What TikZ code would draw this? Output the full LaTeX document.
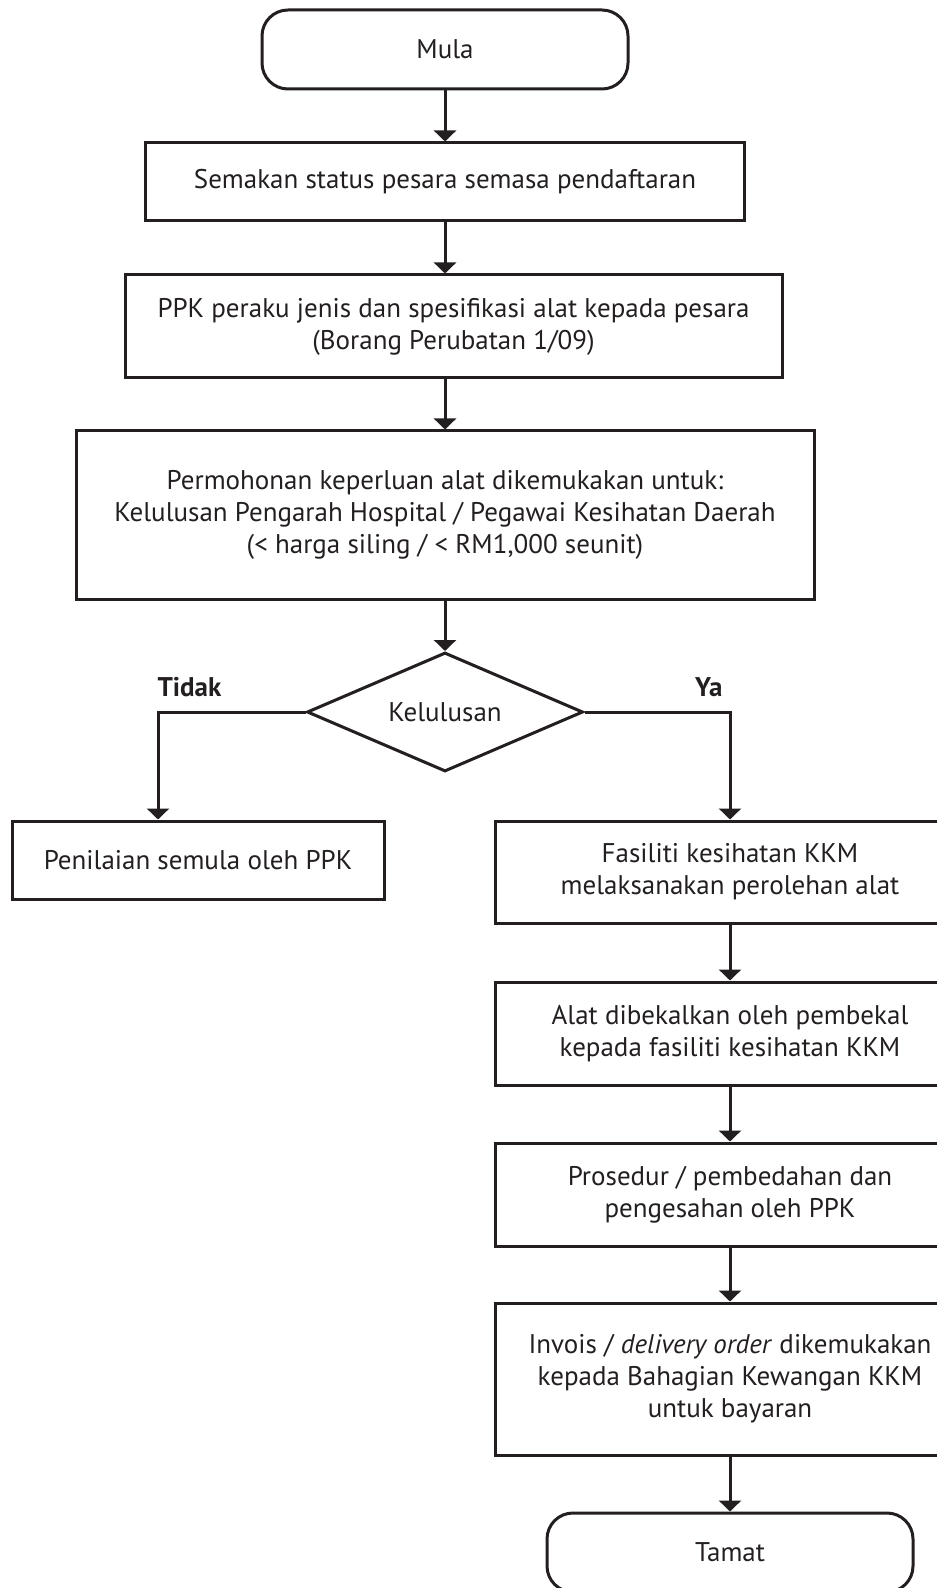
\documentclass[tikz,border=0pt]{standalone}
\usepackage{fontspec}
\setmainfont{PT Sans}
\usetikzlibrary{arrows.meta,shapes.geometric}
\definecolor{garis}{HTML}{231F20}
\begin{document}
\begin{tikzpicture}[x=0.5pt,y=-0.5pt,line width=1.5pt,draw=garis,text=garis,
    font=\fontsize{13.5}{16}\selectfont,
    kotak/.style={draw,align=center,inner sep=0pt},
    hujung/.style={kotak,rounded corners=13pt,minimum width=183pt,minimum height=39.5pt},
    pilihan/.style={inner sep=0pt,font=\fontsize{13.5}{16}\selectfont\bfseries},
    >={Triangle[width=11pt,length=5.5pt]}]
            \useasboundingbox (0,0) rectangle (936,1588);

            \node[hujung] (mula) at (445,49.5) {Mula};
            \node[kotak,minimum width=299.5pt,minimum height=39pt] (semakan) at (445,182) {Semakan status pesara semasa pendaftaran};
            \node[kotak,minimum width=328.5pt,minimum height=51.5pt] (ppk) at (453.5,326.5) {PPK peraku jenis dan spesifikasi alat kepada pesara\\(Borang Perubatan 1/09)};
            \node[kotak,minimum width=369pt,minimum height=84pt] (mohon) at (445,515) {Permohonan keperluan alat dikemukakan untuk:\\Kelulusan Pengarah Hospital / Pegawai Kesihatan Daerah\\(< harga siling / < RM1,000 seunit)};
            \node[draw,diamond,aspect=2.32,minimum width=138pt,minimum height=59.5pt,inner sep=0pt] (lulus) at (445,712) {Kelulusan};

            \node[pilihan,anchor=west] (tidak) at (156,687) {Tidak};
            \node[pilihan,anchor=east] (ya) at (724,687) {Ya};
            \coordinate (belok) at (158,712);

            \node[kotak,minimum width=186pt,minimum height=39pt] (nilai) at (198,860) {Penilaian semula oleh PPK};
            \node[kotak,minimum width=235pt,minimum height=51pt] (fasiliti) at (730,872) {Fasiliti kesihatan KKM\\melaksanakan perolehan alat};
            \node[kotak,minimum width=235pt,minimum height=51.5pt] (bekal) at (730,1033.5) {Alat dibekalkan oleh pembekal\\kepada fasiliti kesihatan KKM};
            \node[kotak,minimum width=235pt,minimum height=51.5pt] (prosedur) at (730,1194.5) {Prosedur / pembedahan dan\\pengesahan oleh PPK};
            \node[kotak,minimum width=235pt,minimum height=76pt] (invois) at (730,1379) {Invois / \textit{delivery order} dikemukakan\\kepada Bahagian Kewangan KKM\\untuk bayaran};
            \node[hujung] (tamat) at (730,1552.5) {Tamat};

            \draw[->] (mula) -- (semakan);
            \draw[->] (semakan) -- (semakan |- ppk.north);
            \draw[->] (semakan |- ppk.south) -- (mohon);
            \draw[->] (mohon) -- (lulus);
            \draw[->] (lulus.west) -- (belok) -- (belok |- nilai.north);
            \draw[->] (lulus.east) -| (fasiliti.north);
            \draw[->] (fasiliti) -- (bekal);
            \draw[->] (bekal) -- (prosedur);
            \draw[->] (prosedur) -- (invois);
            \draw[->] (invois) -- (tamat);
          \end{tikzpicture}
\end{document}
